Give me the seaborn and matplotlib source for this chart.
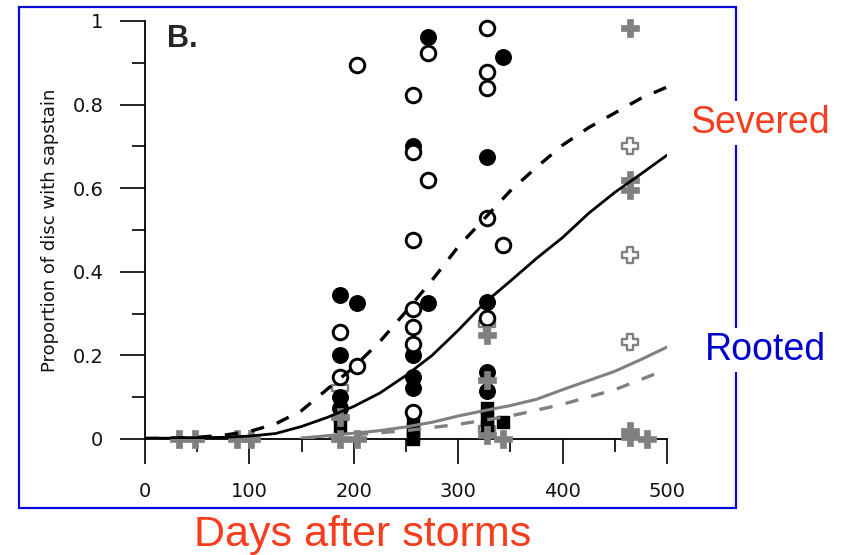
import matplotlib
matplotlib.use("Agg")
import matplotlib.pyplot as plt
from matplotlib.patches import Rectangle
from matplotlib.ticker import MultipleLocator, FixedFormatter, FixedLocator
import pandas as pd
import seaborn as sns

# ---- observations: days after storms vs proportion of disc with sapstain ----
open_circle_days = [187, 187, 203, 203, 257, 257, 257, 257, 257, 257, 257,
                    271, 271, 328, 328, 328, 328, 328, 343]
open_circle_prop = [0.255, 0.148, 0.895, 0.175, 0.823, 0.687, 0.476, 0.31, 0.268,
                    0.228, 0.065, 0.923, 0.62, 0.983, 0.878, 0.84, 0.529, 0.29, 0.464]

filled_circle_days = [187, 187, 187, 187, 203, 257, 257, 257, 257, 271, 271,
                      328, 328, 328, 328, 343]
filled_circle_prop = [0.345, 0.20, 0.10, 0.075, 0.325, 0.70, 0.20, 0.148, 0.122,
                      0.962, 0.325, 0.675, 0.328, 0.16, 0.115, 0.914]

square_days = [187, 187, 257, 257, 257, 257, 328, 328, 328, 343]
square_prop = [0.055, 0.03, 0.045, 0.025, 0.01, 0.0, 0.075, 0.05, 0.03, 0.04]

cross_days = [33, 48, 88, 102, 187, 187, 203, 328, 328, 328, 343,
              465, 465, 465, 465, 465, 481]
cross_prop = [0.0, 0.0, 0.0, 0.0, 0.053, 0.0, 0.0, 0.25, 0.14, 0.01, 0.0,
              0.983, 0.62, 0.595, 0.02, 0.005, 0.0]

open_cross_days = [187, 328, 328, 465, 465, 465]
open_cross_prop = [0.122, 0.275, 0.025, 0.70, 0.44, 0.233]

# ---- fitted curves ----
curve_days = [0, 25, 50, 75, 100, 125, 150, 175, 200, 225, 250, 275, 300,
              325, 350, 375, 400, 425, 450, 475, 500]
severed_dashed = [0.001, 0.002, 0.004, 0.009, 0.018, 0.036, 0.068, 0.12, 0.172,
                  0.233, 0.305, 0.38, 0.46, 0.527, 0.594, 0.65, 0.703, 0.745,
                  0.78, 0.815, 0.842]
severed_solid = [0.002, 0.002, 0.003, 0.004, 0.007, 0.013, 0.03, 0.052, 0.078,
                 0.11, 0.152, 0.2, 0.26, 0.325, 0.378, 0.432, 0.482, 0.54,
                 0.59, 0.634, 0.679]

rooted_solid_days = [150, 175, 200, 225, 250, 275, 300, 325, 350, 375, 400,
                     425, 450, 475, 500]
rooted_solid = [0.002, 0.008, 0.014, 0.02, 0.029, 0.04, 0.055, 0.068, 0.08,
                0.095, 0.118, 0.14, 0.162, 0.19, 0.22]

rooted_dashed_days = [150, 200, 250, 300, 350, 400, 450, 488]
rooted_dashed = [0.002, 0.01, 0.02, 0.035, 0.055, 0.083, 0.118, 0.155]

x_ticks = [0, 100, 200, 300, 400, 500]
y_ticks = [0, 0.2, 0.4, 0.6, 0.8, 1.0]
y_tick_labels = ["0", "0.2", "0.4", "0.6", "0.8", "1"]

sns.set_style("ticks")
plt.rcParams["font.family"] = ["Liberation Sans", "DejaVu Sans"]

W, H = 841, 555
fig = plt.figure(figsize=(W / 100, H / 100), dpi=100)
ax = fig.add_axes([145 / W, 116 / H, 522 / W, 418 / H])

gray = "#808080"

# markers
sns.scatterplot(x=open_cross_days, y=open_cross_prop, marker="P", s=135,
                facecolor="white", edgecolor=gray, linewidth=1.7,
                clip_on=False, legend=False, ax=ax, zorder=3)
sns.scatterplot(x=square_days, y=square_prop, marker="s", s=85,
                color="black", edgecolor="black", linewidth=1,
                clip_on=False, legend=False, ax=ax, zorder=3)
sns.scatterplot(x=filled_circle_days, y=filled_circle_prop, marker="o", s=125,
                color="black", edgecolor="black", linewidth=1,
                clip_on=False, legend=False, ax=ax, zorder=3)
sns.scatterplot(x=open_circle_days, y=open_circle_prop, marker="o", s=110,
                facecolor="white", edgecolor="black", linewidth=2.1,
                clip_on=False, legend=False, ax=ax, zorder=3)
sns.scatterplot(x=cross_days, y=cross_prop, marker="P", s=155,
                color=gray, edgecolor=gray, linewidth=0.5,
                clip_on=False, legend=False, ax=ax, zorder=4)

# curves
sns.lineplot(x=curve_days, y=severed_solid, color="black", lw=2,
             ax=ax, zorder=5)
sns.lineplot(x=curve_days, y=severed_dashed, color="black", lw=2.4,
             ls=(0, (4, 4)), ax=ax, zorder=5)
sns.lineplot(x=rooted_solid_days, y=rooted_solid, color=gray, lw=2.2,
             ax=ax, zorder=5)
sns.lineplot(x=rooted_dashed_days, y=rooted_dashed, color=gray, lw=2.4,
             ls=(0, (4, 4)), ax=ax, zorder=5)

ax.set_xlim(0, 500)
ax.set_ylim(0, 1)
sns.despine(ax=ax)
for side in ("left", "bottom"):
    ax.spines[side].set_linewidth(1.3)
    ax.spines[side].set_color("black")

ax.xaxis.set_major_locator(FixedLocator(x_ticks))
ax.xaxis.set_minor_locator(MultipleLocator(50))
ax.yaxis.set_major_locator(FixedLocator(y_ticks))
ax.yaxis.set_major_formatter(FixedFormatter(y_tick_labels))
ax.yaxis.set_minor_locator(MultipleLocator(0.1))
ax.tick_params(which="major", length=18, width=1.2, direction="out",
               pad=12, labelsize=14, color="black", labelcolor="#111111")
ax.tick_params(axis="x", which="major", pad=13)
ax.tick_params(which="minor", length=9.5, width=1.2, direction="out",
               color="black")
for lbl in ax.get_xticklabels() + ax.get_yticklabels():
    lbl.set_family(["DejaVu Sans"])

ax.set_xlabel("")
ax.set_ylabel("Proportion of disc with sapstain", fontsize=13,
              color="#111111", family=["DejaVu Sans"])
ax.yaxis.set_label_coords(-0.165, 0.5)

fig.text(167 / W, 1 - 47 / H, "B.", fontsize=22, fontweight="bold",
         ha="left", va="baseline")

# outer frame
fig.add_artist(Rectangle((19 / W, 1 - 508 / H), 717 / W, 501 / H,
                         transform=fig.transFigure, fill=False,
                         edgecolor="#0a0ad8", linewidth=1.6, zorder=1))

fig.text(760 / W, 1 - 123 / H, "Severed", fontsize=27, color="#f83c1e",
         ha="center", va="center", zorder=2,
         bbox=dict(facecolor="white", edgecolor="none", pad=3))
fig.text(765 / W, 1 - 350 / H, "Rooted", fontsize=27, color="#0000cc",
         ha="center", va="center", zorder=2,
         bbox=dict(facecolor="white", edgecolor="none", pad=3))
fig.text(363 / W, 1 - 535 / H, "Days after storms", fontsize=31,
         color="#f83c1e", ha="center", va="center")

fig.savefig("out.png", dpi=100)
